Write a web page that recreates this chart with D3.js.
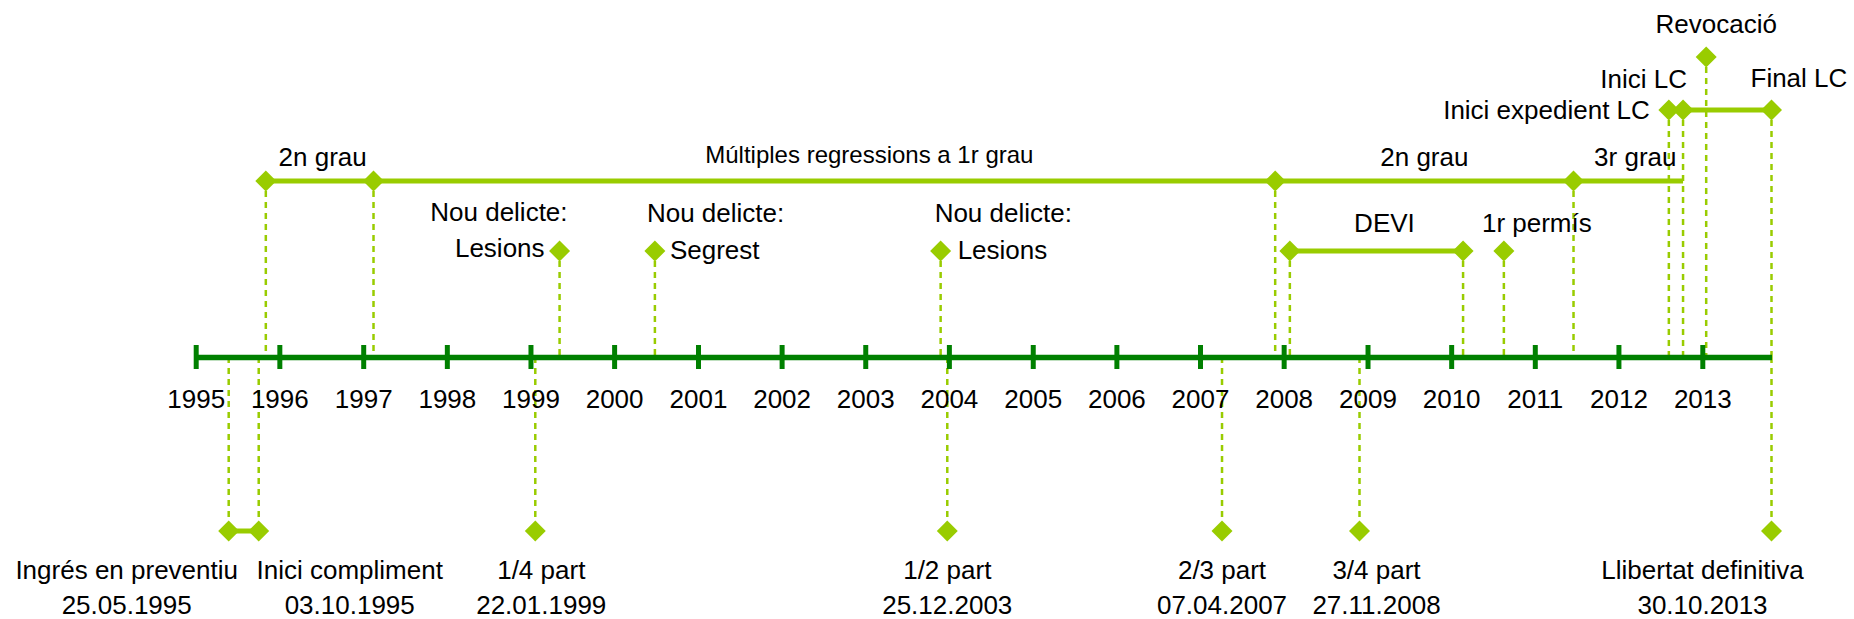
<!DOCTYPE html>
<html>
<head>
<meta charset="utf-8">
<script src="https://cdn.jsdelivr.net/npm/d3@7"></script>
<style>
  body { margin: 0; background: #fff; }
  text { font-family: "Liberation Sans", Arial, sans-serif; font-size: 26px; fill: #000; }
</style>
</head>
<body>
<div id="chart"></div>
<script>
// Timeline data
var axisStart = "1995-01-01", axisEnd = "2013-10-30";

// prison grade periods (one row, segments between dates)
var gradeDates = ["1995-11-03", "1997-02-15", "2007-11-25", "2011-06-19", "2012-10-09"];
var gradeLabels = ["2n grau", "Múltiples regressions a 1r grau", "2n grau", "3r grau"];

var deviDates = ["2008-01-28", "2010-02-22"];
var deviLabel = "DEVI";
var permisDate = "2010-08-19";
var permisLabel = "1r permís";

var crimeDates = ["1999-05-08", "2000-06-27", "2003-11-26"];
var crimeLabels = ["Lesions", "Segrest", "Lesions"];
var crimeTitle = "Nou delicte:";

var lcDates = ["2012-08-08", "2012-10-09", "2013-10-30"];
var lcLabels = ["Inici expedient LC", "Inici LC", "Final LC"];
var revocDate = "2013-01-18";
var revocLabel = "Revocació";

// sentence milestones (below the axis)
var sentenceDates = ["1995-05-25", "1995-10-03", "1999-01-22", "2003-12-25", "2007-04-07", "2008-11-27", "2013-10-30"];
var sentenceLabels = ["Ingrés en preventiu", "Inici compliment", "1/4 part", "1/2 part", "2/3 part", "3/4 part", "Llibertat definitiva"];

var parse = d3.timeParse("%Y-%m-%d");
var fmt = d3.timeFormat("%d.%m.%Y");

var width = 1854, height = 619;
var light = "#99cc00", dark = "#008000";

var svg = d3.select("#chart").append("svg")
    .attr("width", width)
    .attr("height", height);

var x = d3.scaleTime()
    .domain([parse(axisStart), parse(axisEnd)])
    .range([195.7, 1771.5]);

// rows of the timeline
var y = d3.scaleOrdinal()
    .domain(["rev", "lc", "grade", "mid", "axis", "low"])
    .range([57, 110, 181, 251, 357, 531]);

var diamond = d3.symbol().type(d3.symbolSquare).size(220);

// drop lines
var upper = [];
gradeDates.slice(0, 4).forEach(function(d) { upper.push({date: d, row: "grade"}); });
deviDates.forEach(function(d) { upper.push({date: d, row: "mid"}); });
upper.push({date: permisDate, row: "mid"});
crimeDates.forEach(function(d) { upper.push({date: d, row: "mid"}); });
lcDates.forEach(function(d) { upper.push({date: d, row: "lc"}); });
upper.push({date: revocDate, row: "rev"});

var drops = svg.append("g")
    .attr("stroke", light)
    .attr("stroke-width", 2.5)
    .attr("stroke-dasharray", "6,5");

drops.selectAll(".up").data(upper).enter().append("line")
    .attr("x1", function(d) { return x(parse(d.date)); })
    .attr("x2", function(d) { return x(parse(d.date)); })
    .attr("y1", function(d) { return y(d.row) + 10; })
    .attr("y2", y("axis"));

drops.selectAll(".down").data(sentenceDates).enter().append("line")
    .attr("x1", function(d) { return x(parse(d)); })
    .attr("x2", function(d) { return x(parse(d)); })
    .attr("y1", y("axis"))
    .attr("y2", y("low") - 10);

// axis
var axis = d3.axisBottom(x)
    .ticks(d3.timeYear.every(1))
    .tickFormat(d3.timeFormat("%Y"))
    .tickSizeOuter(0)
    .tickSizeInner(12);

var gAxis = svg.append("g")
    .attr("transform", "translate(0," + y("axis") + ")")
    .attr("font-size", null)
    .attr("font-family", null)
    .call(axis);
gAxis.select(".domain").attr("stroke", dark).attr("stroke-width", 5.5);
gAxis.selectAll(".tick line")
    .attr("y1", -12).attr("y2", 12)
    .attr("stroke", dark).attr("stroke-width", 5);
gAxis.selectAll(".tick text")
    .attr("y", 42).attr("dy", "0.35em");

// period lines
var spans = [
  {a: gradeDates[0], b: gradeDates[gradeDates.length - 1], row: "grade"},
  {a: deviDates[0], b: deviDates[1], row: "mid"},
  {a: lcDates[1], b: lcDates[2], row: "lc"},
  {a: sentenceDates[0], b: sentenceDates[1], row: "low"}
];
svg.append("g").selectAll("line").data(spans).enter().append("line")
    .attr("x1", function(d) { return x(parse(d.a)); })
    .attr("x2", function(d) { return x(parse(d.b)); })
    .attr("y1", function(d) { return y(d.row); })
    .attr("y2", function(d) { return y(d.row); })
    .attr("stroke", light)
    .attr("stroke-width", 5);

// diamonds
var points = upper.concat(sentenceDates.map(function(d) { return {date: d, row: "low"}; }));
svg.append("g").selectAll("path").data(points).enter().append("path")
    .attr("d", diamond)
    .attr("fill", light)
    .attr("transform", function(d) {
      return "translate(" + x(parse(d.date)) + "," + y(d.row) + ") rotate(45)";
    });

// labels
var labels = svg.append("g");
function label(txt, px, py, anchor, size) {
  var t = labels.append("text")
      .attr("x", px)
      .attr("y", py)
      .attr("dy", "0.35em")
      .attr("text-anchor", anchor || "middle")
      .text(txt);
  if (size) t.style("font-size", size + "px");
  return t;
}

var gradeDx = [3, 45, 0, 7];
gradeLabels.forEach(function(l, i) {
  var mid = (x(parse(gradeDates[i])) + x(parse(gradeDates[i + 1]))) / 2;
  label(l, mid + gradeDx[i], i === 1 ? 155 : 157, "middle", i === 1 ? 24 : null);
});

label(deviLabel, (x(parse(deviDates[0])) + x(parse(deviDates[1]))) / 2 + 8, 223);
label(permisLabel, x(parse(permisDate)) + 33, 223);

crimeDates.forEach(function(d, i) {
  var cx = x(parse(d));
  if (i === 0) {
    label(crimeTitle, cx + 8, 212, "end");
    label(crimeLabels[i], cx - 15, 248, "end");
  } else {
    label(crimeTitle, cx - (i === 1 ? 8 : 6), 213, "start");
    label(crimeLabels[i], cx + (i === 1 ? 15 : 17), 250, "start");
  }
});

label(lcLabels[0], x(parse(lcDates[0])) - 19, 110, "end");
label(lcLabels[1], x(parse(lcDates[1])) + 4, 79, "end");
label(lcLabels[2], x(parse(lcDates[2])) - 21, 78, "start");
label(revocLabel, x(parse(revocDate)) + 10, 24);

var lowDx = [-102, 91, 6, 0, 0, 17, -69];
sentenceDates.forEach(function(d, i) {
  var cx = x(parse(d)) + lowDx[i];
  label(sentenceLabels[i], cx, 570);
  label(fmt(parse(d)), cx, 605);
});
</script>
</body>
</html>
